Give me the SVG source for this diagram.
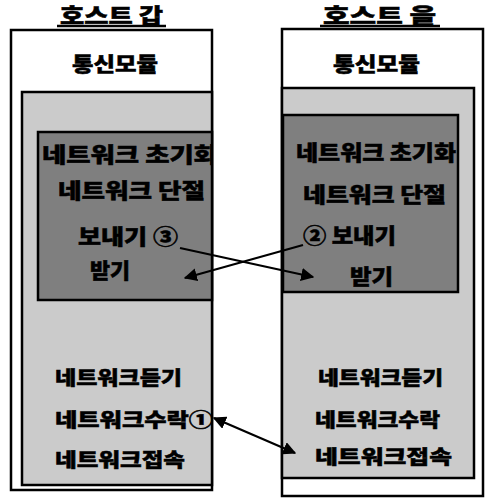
<svg xmlns="http://www.w3.org/2000/svg" width="486" height="499" viewBox="0 0 486 499">
  <style>
    .t { font-family: "Noto Sans CJK KR", "Noto Sans", sans-serif; font-weight: 900; fill: #000; stroke: #000; stroke-width: 0.5; }
    .title { font-size: 21px; }
    .mod { font-size: 20px; }
    .big { font-size: 21px; }
    .low { font-size: 19px; }
    .box { stroke: #000; stroke-width: 2.5; }
    .light { fill: #cbcbcb; }
    .dark { fill: #7f7f7f; }
    .edge { stroke: #000; stroke-width: 2.2; fill: none; }
  </style>
  <defs>
    <marker id="ah" viewBox="0 0 10 10" refX="9" refY="5" markerWidth="6" markerHeight="6" orient="auto-start-reverse" markerUnits="strokeWidth">
      <path d="M0,0 L10,5 L0,10 z" fill="#000"/>
    </marker>
    <clipPath id="clipA"><rect x="38" y="132" width="173" height="168"/></clipPath>
  </defs>
  <rect width="486" height="499" fill="#fff"/>

  <g id="host-a">
    <text class="t title" x="60" y="23" textLength="103" lengthAdjust="spacingAndGlyphs">호스트 갑</text>
    <line x1="57" y1="26" x2="166" y2="26" stroke="#000" stroke-width="2.5"/>
    <rect class="box" x="11" y="30" width="201" height="460" fill="#fff"/>
    <text class="t mod" x="72" y="72" textLength="86" lengthAdjust="spacingAndGlyphs">통신모듈</text>
    <rect class="box light" x="22" y="92" width="190" height="393"/>
  </g>
  <g id="host-a-session">
    <rect class="box dark" x="38" y="132" width="174" height="168"/>
    <g clip-path="url(#clipA)">
      <text class="t big" x="42" y="162" textLength="176" lengthAdjust="spacingAndGlyphs">네트워크 초기화</text>
    </g>
    <text class="t big" x="58" y="198" textLength="147" lengthAdjust="spacingAndGlyphs">네트워크 단절</text>
    <text class="t big" x="78" y="244" textLength="100" lengthAdjust="spacingAndGlyphs">보내기 ③</text>
    <text class="t big" x="90" y="278" textLength="40" lengthAdjust="spacingAndGlyphs">받기</text>
  </g>
  <g id="host-a-network">
    <text class="t low" x="55" y="385" textLength="127" lengthAdjust="spacingAndGlyphs">네트워크듣기</text>
    <text class="t low" x="55" y="427" textLength="158" lengthAdjust="spacingAndGlyphs">네트워크수락①</text>
    <text class="t low" x="55" y="467" textLength="130" lengthAdjust="spacingAndGlyphs">네트워크접속</text>
  </g>

  <g id="host-b">
    <text class="t title" x="323" y="23" textLength="113" lengthAdjust="spacingAndGlyphs">호스트 을</text>
    <line x1="320" y1="26" x2="440" y2="26" stroke="#000" stroke-width="2.5"/>
    <rect class="box" x="282" y="29" width="201" height="467" fill="#fff"/>
    <text class="t mod" x="333" y="72" textLength="87" lengthAdjust="spacingAndGlyphs">통신모듈</text>
    <rect class="box light" x="282" y="88" width="192" height="390"/>
  </g>
  <g id="host-b-session">
    <rect class="box dark" x="283" y="115" width="175" height="177"/>
    <text class="t big" x="296" y="160" textLength="160" lengthAdjust="spacingAndGlyphs">네트워크 초기화</text>
    <text class="t big" x="303" y="202" textLength="143" lengthAdjust="spacingAndGlyphs">네트워크 단절</text>
    <text class="t big" x="303" y="243" textLength="93" lengthAdjust="spacingAndGlyphs">② 보내기</text>
    <text class="t big" x="350" y="284" textLength="43" lengthAdjust="spacingAndGlyphs">받기</text>
  </g>
  <g id="host-b-network">
    <text class="t low" x="318" y="385" textLength="125" lengthAdjust="spacingAndGlyphs">네트워크듣기</text>
    <text class="t low" x="315" y="427" textLength="125" lengthAdjust="spacingAndGlyphs">네트워크수락</text>
    <text class="t low" x="315" y="464" textLength="137" lengthAdjust="spacingAndGlyphs">네트워크접속</text>
  </g>

  <g id="connectors">
    <line class="edge" x1="180" y1="248" x2="313" y2="277" marker-end="url(#ah)"/>
    <line class="edge" x1="303" y1="245" x2="185" y2="278" marker-end="url(#ah)"/>
    <line class="edge" x1="214" y1="418" x2="295" y2="453" marker-start="url(#ah)" marker-end="url(#ah)"/>
  </g>
</svg>
